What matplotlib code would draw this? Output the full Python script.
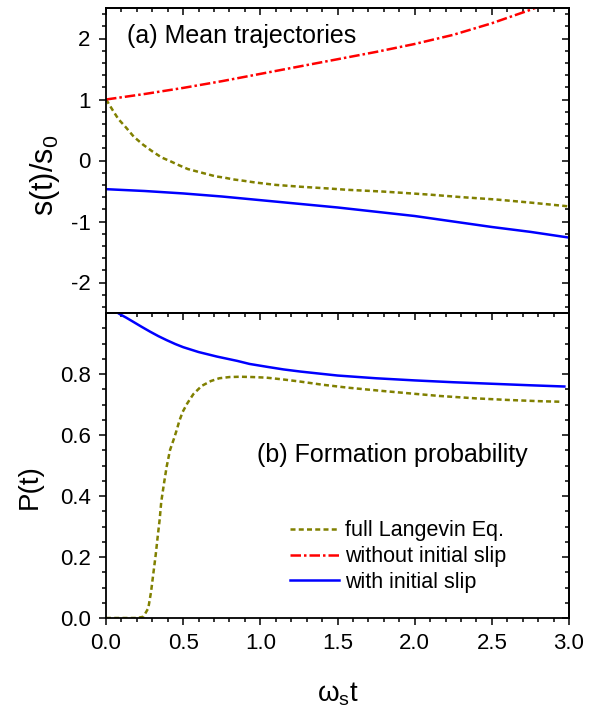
import matplotlib
matplotlib.use('Agg')
import matplotlib.pyplot as plt
from matplotlib.ticker import MultipleLocator, FixedLocator

plt.rcParams['font.family'] = ['Liberation Sans', 'DejaVu Sans']
plt.rcParams['mathtext.fontset'] = 'custom'
plt.rcParams['mathtext.rm'] = 'Liberation Sans'
plt.rcParams['mathtext.it'] = 'Liberation Sans:italic'
plt.rcParams['axes.unicode_minus'] = False

# (a) mean trajectories s(t)/s0
t_full_a = [0, 0.008, 0.047, 0.08, 0.13, 0.18, 0.24, 0.30, 0.36, 0.415, 0.475, 0.53,
            0.59, 0.65, 0.71, 0.765, 0.825, 0.885, 0.965, 1.1, 1.26, 1.45, 1.56, 1.8,
            2.1, 2.3, 2.53, 2.75, 2.99]
s_full = [1.0, 0.97, 0.81, 0.68, 0.54, 0.39, 0.26, 0.15, 0.05, -0.01, -0.08, -0.14,
          -0.18, -0.22, -0.26, -0.28, -0.31, -0.33, -0.36, -0.40, -0.43, -0.46, -0.48,
          -0.51, -0.56, -0.60, -0.64, -0.69, -0.75]
t_noslip_a = [0, 0.25, 0.5, 0.75, 1.0, 1.25, 1.5, 1.75, 2.0, 2.25, 2.5, 2.75, 2.85]
s_noslip = [1.0, 1.09, 1.19, 1.30, 1.42, 1.54, 1.66, 1.78, 1.91, 2.06, 2.25, 2.47, 2.57]
t_slip_a = [0, 0.25, 0.5, 0.75, 1.0, 1.25, 1.5, 1.75, 2.0, 2.25, 2.5, 2.75, 2.99]
s_slip = [-0.47, -0.50, -0.54, -0.59, -0.65, -0.71, -0.77, -0.84, -0.91, -1.00,
          -1.09, -1.17, -1.26]

# (b) formation probability P(t)
t_full_b = [0, 0.1, 0.2, 0.242, 0.274, 0.292, 0.307, 0.322, 0.335, 0.348, 0.358,
            0.376, 0.393, 0.415, 0.441, 0.458, 0.475, 0.497, 0.527, 0.566, 0.62, 0.68,
            0.734, 0.8, 0.87, 0.95, 1.04, 1.15, 1.26, 1.4, 1.57, 1.8, 2.0, 2.16, 2.4,
            2.6, 2.8, 2.95]
p_full = [0, 0, 0, 0.004, 0.032, 0.086, 0.147, 0.207, 0.267, 0.324, 0.381, 0.442,
          0.496, 0.551, 0.589, 0.616, 0.646, 0.676, 0.704, 0.734, 0.761, 0.777, 0.786,
          0.790, 0.791, 0.790, 0.788, 0.782, 0.775, 0.765, 0.755, 0.744, 0.735, 0.728,
          0.720, 0.715, 0.711, 0.709]
t_slip_b = [0, 0.05, 0.09, 0.13, 0.177, 0.23, 0.285, 0.34, 0.393, 0.45, 0.5, 0.6,
            0.72, 0.85, 0.93, 1.05, 1.15, 1.26, 1.37, 1.5, 1.75, 2.0, 2.25, 2.5, 2.75,
            2.97]
p_slip = [1.02, 1.009, 0.996, 0.985, 0.971, 0.955, 0.939, 0.924, 0.911, 0.898, 0.888,
          0.872, 0.857, 0.843, 0.833, 0.823, 0.815, 0.808, 0.802, 0.795, 0.786, 0.779,
          0.773, 0.768, 0.763, 0.759]

labels = ['full Langevin Eq.', 'without initial slip', 'with initial slip']

olive = '#808000'
red = '#ff0000'
blue = '#0000ff'
lw = 1.8
dash_full = (2.0, 1.3)
dash_noslip = (4.2, 1.2, 1.0, 1.2)

fig = plt.figure(figsize=(5.93, 7.08), dpi=100)
L, R = 106 / 593, 569 / 593
ax1 = fig.add_axes([L, 1 - 313 / 708, R - L, 305 / 708])
ax2 = fig.add_axes([L, 1 - 618 / 708, R - L, 305 / 708])

ax1.plot(t_full_a, s_full, color=olive, lw=lw, dashes=dash_full)
ax1.plot(t_noslip_a, s_noslip, color=red, lw=lw, dashes=dash_noslip)
ax1.plot(t_slip_a, s_slip, color=blue, lw=lw)

h1, = ax2.plot(t_full_b, p_full, color=olive, lw=lw, dashes=dash_full)
h2, = ax2.plot([], [], color=red, lw=lw, dashes=dash_noslip)
h3, = ax2.plot(t_slip_b, p_slip, color=blue, lw=lw)

ax1.set_xlim(0, 3.0)
ax2.set_xlim(0, 3.0)
ax1.set_ylim(-2.5, 2.5)
ax2.set_ylim(0, 1.0)

for ax in (ax1, ax2):
    ax.xaxis.set_major_locator(MultipleLocator(0.5))
    ax.xaxis.set_minor_locator(MultipleLocator(0.1))
    for sp in ax.spines.values():
        sp.set_linewidth(1.3)
    ax.tick_params(which='both', direction='out', width=1.1, labelsize=16, pad=6)
    ax.tick_params(which='major', length=5)
    ax.tick_params(which='minor', length=3)

ax1.yaxis.set_major_locator(MultipleLocator(1))
ax1.yaxis.set_minor_locator(MultipleLocator(0.2))
ax1.tick_params(axis='x', labelbottom=False)

ax2.yaxis.set_major_locator(FixedLocator([0, 0.2, 0.4, 0.6, 0.8]))
ax2.yaxis.set_minor_locator(FixedLocator([i * 0.05 for i in range(1, 20)]))
ax2.yaxis.set_major_formatter(plt.FuncFormatter(lambda v, p: f'{v:.1f}'))
ax2.xaxis.set_major_formatter(plt.FuncFormatter(lambda v, p: f'{v:.1f}'))

# mirrored ticks pointing inward on top and right
for ax, ymaj, ymin in ((ax1, MultipleLocator(1), MultipleLocator(0.2)),
                       (ax2, FixedLocator([0, 0.2, 0.4, 0.6, 0.8, 1.0]),
                        FixedLocator([i * 0.05 for i in range(1, 20)]))):
    top = ax.secondary_xaxis('top')
    top.xaxis.set_major_locator(MultipleLocator(0.5))
    top.xaxis.set_minor_locator(MultipleLocator(0.1))
    top.tick_params(which='both', direction='in', width=1.1, labeltop=False)
    top.tick_params(which='major', length=5)
    top.tick_params(which='minor', length=3)
    top.spines['top'].set_linewidth(1.3)
    right = ax.secondary_yaxis('right')
    right.yaxis.set_major_locator(ymaj)
    right.yaxis.set_minor_locator(ymin)
    right.tick_params(which='both', direction='in', width=1.1, labelright=False)
    right.tick_params(which='major', length=5)
    right.tick_params(which='minor', length=3)
    right.spines['right'].set_linewidth(1.3)

ax1.set_ylabel('s(t)/s$_0$', fontsize=22)
ax1.yaxis.set_label_coords(-0.095, 0.45)
ax2.set_ylabel('P(t)', fontsize=20)
ax2.yaxis.set_label_coords(-0.136, 0.43)
ax2.set_xlabel('ω$_\\mathrm{s}$t', fontsize=20)
ax2.xaxis.set_label_coords(0.5, -0.205)

ax1.text(0.045, 0.908, '(a) Mean trajectories', transform=ax1.transAxes,
         fontsize=18, va='center', ha='left')
ax2.text(0.326, 0.534, '(b) Formation probability', transform=ax2.transAxes,
         fontsize=18, va='center', ha='left')

ax2.legend([h1, h2, h3], labels, loc='upper left', bbox_to_anchor=(0.397, 0.32),
           frameon=False, fontsize=15.5, handlelength=2.3, handletextpad=0.25,
           labelspacing=0.22, borderpad=0, borderaxespad=0)

fig.savefig('out.png', dpi=100)
